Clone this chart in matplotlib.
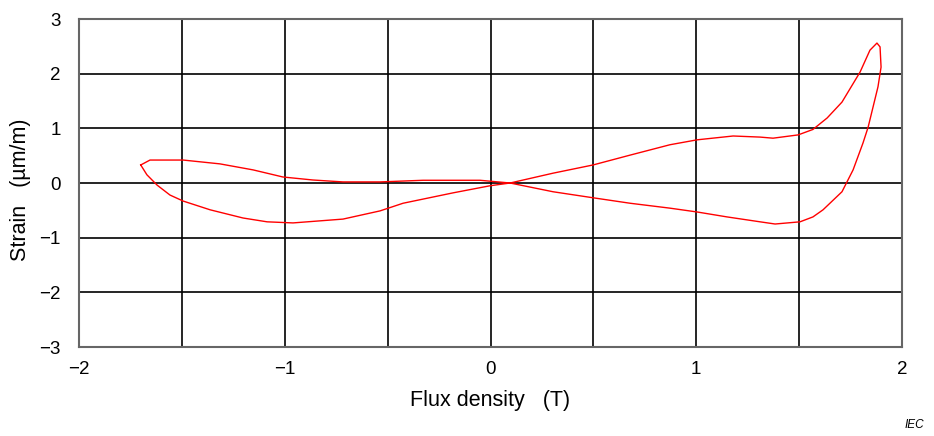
import numpy as np
import matplotlib.pyplot as plt

plt.rcParams['font.family'] = ['Liberation Sans', 'DejaVu Sans']

# magnetostriction loop, traced once around
flux = [-1.70, -1.655, -1.494, -1.315, -1.154, -1.009, -0.863, -0.717, -0.537,
        -0.328, -0.051, 0.095, 0.304, 0.498, 0.678, 0.872, 1.004, 1.149, 1.31,
        1.383, 1.504, 1.567, 1.616, 1.708, 1.762, 1.81, 1.835, 1.883, 1.898,
        1.893, 1.878, 1.844, 1.796, 1.708, 1.636, 1.567, 1.495, 1.373, 1.31,
        1.179, 1.004, 0.872, 0.678, 0.498, 0.304, 0.095, -0.002, -0.182,
        -0.425, -0.537, -0.717, -0.96, -1.086, -1.203, -1.363, -1.494, -1.558,
        -1.62, -1.67, -1.70]
strain = [0.33, 0.42, 0.42, 0.35, 0.24, 0.11, 0.055, 0.02, 0.02,
          0.05, 0.05, 0.0, -0.16, -0.27, -0.37, -0.46, -0.53, -0.62, -0.71,
          -0.75, -0.71, -0.62, -0.49, -0.16, 0.24, 0.73, 1.02, 1.76, 2.12,
          2.49, 2.56, 2.43, 2.03, 1.48, 1.19, 0.98, 0.88, 0.82, 0.84,
          0.86, 0.79, 0.70, 0.51, 0.33, 0.18, 0.0, -0.05, -0.18,
          -0.37, -0.51, -0.66, -0.73, -0.71, -0.64, -0.49, -0.33, -0.22,
          -0.04, 0.15, 0.33]

x_ticks = [-2, -1, 0, 1, 2]
y_ticks = [-3, -2, -1, 0, 1, 2, 3]

fig = plt.figure(figsize=(9.34, 4.36), dpi=100)
ax = fig.add_axes([0.0846, 0.2041, 0.8812, 0.7523])

ax.plot(flux, strain, color='red', lw=1.0, zorder=3)

ax.set_xlim(-2, 2)
ax.set_ylim(-3, 3)
ax.set_xticks(x_ticks)
ax.set_xticks(np.arange(-1.5, 2, 1.0), minor=True)
ax.set_yticks(y_ticks)
ax.grid(True, which='both', color='black', lw=1.2)
ax.tick_params(which='both', length=0, labelsize=13.5)
ax.tick_params(axis='x', pad=10)
ax.tick_params(axis='y', pad=13)
for s in ax.spines.values():
    s.set_color('#666666')
    s.set_linewidth(1.5)
    s.set_zorder(4)

ax.set_xlabel('Flux density   (T)', fontsize=15.5)
ax.set_ylabel('Strain   (\u00b5m/m)', fontsize=15.5)
ax.xaxis.set_label_coords(0.5, -0.13)
ax.yaxis.set_label_coords(-0.058, 0.48)

fig.text(905 / 934, 1 - 425 / 436, 'IEC', fontsize=8.5, style='italic', va='center')

fig.savefig('out.png', dpi=100)
